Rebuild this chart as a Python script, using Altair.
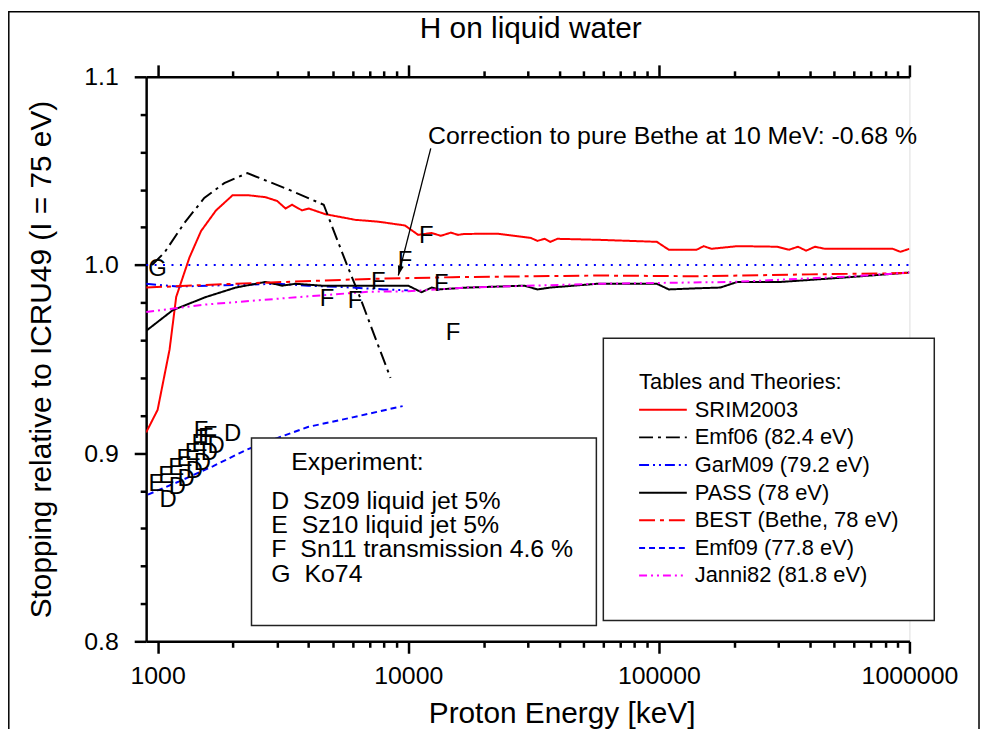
import altair as alt
import pandas as pd

FONT = "Liberation Sans"

# ---------------- ticks ----------------
X_TICKS = [1000, 2000, 3000, 4000, 5000, 6000, 7000, 8000, 9000,
           10000, 20000, 30000, 40000, 50000, 60000, 70000, 80000, 90000,
           100000, 200000, 300000, 400000, 500000, 600000, 700000, 800000, 900000,
           1000000]
X_MAJOR = [1000, 10000, 100000, 1000000]
Y_TICKS = [0.80, 0.82, 0.84, 0.86, 0.88, 0.90, 0.92, 0.94, 0.96, 0.98,
           1.00, 1.02, 1.04, 1.06, 1.08, 1.10]

# ---------------- theory curves ----------------
srim_E = [900, 1000, 1116, 1186, 1340, 1490, 1710, 1990, 2320, 2700,
          3000, 3240, 3440, 3770, 4010, 4670, 6140, 7600, 9700, 10960,
          12400, 13500, 14800, 15800, 16800, 22700, 30800, 32800, 35000, 36900,
          39400, 56700, 98200, 109600, 141500, 151000, 162000, 206000, 297000, 331000,
          359000, 387000, 420000, 460000, 857000, 921000, 1000000]
srim_v = [0.911, 0.923, 0.955, 0.983, 1.004, 1.018, 1.029, 1.037, 1.037, 1.036,
          1.034, 1.030, 1.032, 1.029, 1.030, 1.027, 1.024, 1.023, 1.021, 1.016,
          1.017, 1.0155, 1.0172, 1.016, 1.0165, 1.0166, 1.0144, 1.0128, 1.0139, 1.0123,
          1.0139, 1.0134, 1.0123, 1.0081, 1.0081, 1.010, 1.0086, 1.010, 1.0097, 1.0081,
          1.0097, 1.0076, 1.0097, 1.0086, 1.0086, 1.007, 1.0086]

emf06_E = [950, 1066, 1280, 1535, 1845, 2280, 3340, 4600, 4820, 5620, 6330, 7600, 8500]
emf06_v = [1.000, 1.0067, 1.0224, 1.0356, 1.0435, 1.0488, 1.040, 1.032, 1.025, 1.002, 0.985, 0.957, 0.940]

garm09_E = [900, 1200, 1600, 2200, 3000, 4000, 6000, 8000, 10000]
garm09_v = [0.990, 0.9885, 0.989, 0.9895, 0.990, 0.989, 0.988, 0.987, 0.9865]

pass_E = [900, 1150, 1560, 2050, 2700, 3140, 3550, 4530, 6140, 10000,
          11300, 12400, 13200, 17300, 29100, 32800, 36900, 56700, 98200, 109600,
          141500, 176000, 206000, 308000, 573000, 1000000]
pass_v = [0.965, 0.976, 0.983, 0.988, 0.991, 0.989, 0.990, 0.989, 0.989, 0.989,
          0.9855, 0.988, 0.987, 0.988, 0.989, 0.987, 0.988, 0.990, 0.990, 0.987,
          0.9876, 0.988, 0.991, 0.991, 0.9935, 0.996]

best_E = [900, 2000, 7000, 15000, 57000, 140000, 400000, 1000000]
best_v = [0.988, 0.990, 0.9926, 0.9935, 0.9944, 0.994, 0.995, 0.9957]

emf09_E = [915, 1220, 1660, 2280, 3000, 4000, 6000, 9500]
emf09_v = [0.878, 0.885, 0.893, 0.902, 0.908, 0.914, 0.919, 0.925]

janni_E = [900, 1560, 3700, 7000, 10000, 17000, 57000, 200000, 600000, 1000000]
janni_v = [0.975, 0.979, 0.983, 0.9858, 0.986, 0.988, 0.990, 0.991, 0.994, 0.996]

icru_E = [900, 1000000]
icru_v = [1.0, 1.0]

NAMES = ["SRIM2003", "Emf06 (82.4 eV)", "GarM09 (79.2 eV)", "PASS (78 eV)",
         "BEST (Bethe, 78 eV)", "Emf09 (77.8 eV)", "Janni82 (81.8 eV)"]
COLORS = ["#ff0000", "#000000", "#0000ff", "#000000", "#ff0000", "#0000ff", "#ff00ff"]
DASHES = [[1, 0], [14, 5, 3, 5], [10, 4, 2, 4, 2, 4], [1, 0], [16, 5, 4, 5], [6, 4], [8, 4, 2, 4, 2, 4]]
CURVES = [(srim_E, srim_v), (emf06_E, emf06_v), (garm09_E, garm09_v), (pass_E, pass_v),
          (best_E, best_v), (emf09_E, emf09_v), (janni_E, janni_v)]
THEORY_TITLE = "Tables and Theories:"

# ---------------- experiments ----------------
sz09_E = [1100, 1200, 1300, 1400, 1510, 1610, 1710, 1990]
sz09_v = [0.875, 0.882, 0.886, 0.8905, 0.895, 0.900, 0.9037, 0.910]
sz10_E = [990, 1083, 1186, 1280, 1380, 1470, 1560]
sz10_v = [0.8835, 0.888, 0.892, 0.8967, 0.9002, 0.9046, 0.9081]
sn11_E = [1490, 1620, 4740, 6140, 7600, 9700, 11800, 13550, 15100]
sn11_v = [0.912, 0.909, 0.982, 0.981, 0.991, 1.002, 1.0155, 0.990, 0.9636]
ko74_E = [1000]
ko74_v = [0.998]

EXP_LETTERS = ["D", "E", "F", "G"]
EXP_NAMES = ["Sz09 liquid jet 5%", "Sz10 liquid jet 5%", "Sn11 transmission 4.6 %", "Ko74"]
EXPS = [(sz09_E, sz09_v), (sz10_E, sz10_v), (sn11_E, sn11_v), (ko74_E, ko74_v)]
EXP_TITLE = "Experiment:"

TITLE = "H on liquid water"
X_TITLE = "Proton Energy [keV]"
Y_TITLE = "Stopping relative to ICRU49 (I = 75 eV)"

ANNOT_TEXT = ["Correction to pure Bethe at 10 MeV: -0.68 %"]
ANNOT_E = [12000]
ANNOT_V = [1.0683]
ARROW_FROM = (12300, 1.062)
ARROW_TO = (9130, 0.9944)

# ---------------- tables ----------------
rows = []
for name, (es, vs) in zip(NAMES, CURVES):
    for e, v in zip(es, vs):
        rows.append({"series": name, "E": e, "v": v})
df_lines = pd.DataFrame(rows)

df_icru = pd.DataFrame({"E": icru_E, "v": icru_v})

erows = []
for letter, (es, vs) in zip(EXP_LETTERS, EXPS):
    for e, v in zip(es, vs):
        erows.append({"letter": letter, "E": e, "v": v})
df_exp = pd.DataFrame(erows)

df_annot = pd.DataFrame({"E": ANNOT_E, "v": ANNOT_V, "t": ANNOT_TEXT})
df_arrow = pd.DataFrame({"x1": [ARROW_FROM[0]], "y1": [ARROW_FROM[1]],
                         "x2": [ARROW_TO[0]], "y2": [ARROW_TO[1]]})
df_one = pd.DataFrame({"k": [0]})

# ---------------- scales / axes ----------------
W, H = 768, 568
xscale = alt.Scale(type="log", domain=[900, 1000000], nice=False)
yscale = alt.Scale(domain=[0.8, 1.1], nice=False, zero=False)

x_major_test = "indexof([1000,10000,100000,1000000], datum.value) >= 0"
y_major_test = "abs(datum.value*10 - round(datum.value*10)) < 0.01"

x_axis_bottom = alt.Axis(
    values=X_TICKS,
    labelExpr=f"{x_major_test} ? format(datum.value, 'd') : ''",
    tickSize={"condition": {"test": x_major_test, "value": 12}, "value": 6},
    tickWidth=2.5, tickColor="black", domainWidth=2.5, domainColor="black",
    labelFont=FONT, labelFontSize=25, labelColor="black", labelPadding=10,
    labelOverlap=False, labelFlush=False, grid=False,
    title=X_TITLE, titleFont=FONT, titleFontSize=30,
    titleFontWeight="normal", titleColor="black", titlePadding=11, titleX=418,
)
x_axis_top = alt.Axis(
    orient="top", values=X_TICKS, labels=False,
    tickSize={"condition": {"test": x_major_test, "value": 12}, "value": 6},
    tickWidth=2.5, tickColor="black", domainWidth=2.5, domainColor="black",
    grid=False,
)
y_axis = alt.Axis(
    values=Y_TICKS,
    labelExpr=f"{y_major_test} ? format(datum.value, '.1f') : ''",
    tickSize={"condition": {"test": y_major_test, "value": 12}, "value": 6},
    tickWidth=2.5, tickColor="black", domainWidth=2.5, domainColor="black",
    labelFont=FONT, labelFontSize=25, labelColor="black", labelPadding=16,
    labelOverlap=False, grid=False,
    title=Y_TITLE, titleFont=FONT, titleFontSize=30,
    titleFontWeight="normal", titleColor="black", titlePadding=27,
)

# ---------------- data layers ----------------
lines = alt.Chart(df_lines).mark_line(strokeWidth=2, clip=True).encode(
    x=alt.X("E:Q", scale=xscale, axis=x_axis_bottom),
    y=alt.Y("v:Q", scale=yscale, axis=y_axis),
    color=alt.Color("series:N", scale=alt.Scale(domain=NAMES, range=COLORS), legend=None),
    strokeDash=alt.StrokeDash("series:N", scale=alt.Scale(domain=NAMES, range=DASHES), legend=None),
)

icru = alt.Chart(df_icru).mark_line(color="#0000ff", strokeWidth=2, strokeDash=[2, 6.5], clip=True).encode(
    x=alt.X("E:Q", scale=xscale, axis=x_axis_top, title=None),
    y=alt.Y("v:Q", scale=yscale, axis=y_axis),
)

markers = alt.Chart(df_exp).mark_text(font=FONT, fontSize=24, align="center", baseline="middle",
                                      color="black").encode(
    x=alt.X("E:Q", scale=xscale, axis=None),
    y=alt.Y("v:Q", scale=yscale, axis=y_axis),
    text="letter:N",
)

annot = alt.Chart(df_annot).mark_text(font=FONT, fontSize=25, align="left", baseline="middle",
                                      color="black").encode(
    x=alt.X("E:Q", scale=xscale, axis=None),
    y=alt.Y("v:Q", scale=yscale, axis=y_axis),
    text="t:N",
)

arrow = alt.Chart(df_arrow).mark_rule(color="black", strokeWidth=1.3).encode(
    x=alt.X("x1:Q", scale=xscale, axis=None), x2="x2:Q",
    y=alt.Y("y1:Q", scale=yscale, axis=y_axis), y2="y2:Q",
)

head = alt.Chart(df_arrow).mark_point(shape="M0,0 L-0.3,-1 L0.3,-1 Z", angle=14.5, size=400,
                                      filled=True, color="black", opacity=1).encode(
    x=alt.X("x2:Q", scale=xscale, axis=None),
    y=alt.Y("y2:Q", scale=yscale, axis=y_axis),
)

# ---------------- decorations: title, legend boxes, frame ----------------
deco = []
deco.append(alt.Chart(df_one).mark_text(text=TITLE, font=FONT, fontSize=30, align="center",
                                        baseline="middle", color="black").encode(
    x=alt.value(W / 2 + 3), y=alt.value(-48)))

# experiment box
deco.append(alt.Chart(df_one).mark_rect(fill="white", stroke="#222", strokeWidth=1.5).encode(
    x=alt.value(106), x2=alt.value(453), y=alt.value(363.5), y2=alt.value(552)))
deco.append(alt.Chart(df_one).mark_text(text=EXP_TITLE, font=FONT, fontSize=25, align="left",
                                        baseline="middle", color="black").encode(
    x=alt.value(146), y=alt.value(388)))
for i, (letter, nm) in enumerate(zip(EXP_LETTERS, EXP_NAMES)):
    deco.append(alt.Chart(df_one).mark_text(text=f"{letter}\u00a0\u00a0{nm}", font=FONT, fontSize=25,
                                            align="left", baseline="middle", color="black").encode(
        x=alt.value(126), y=alt.value(427 + 24.3 * i)))

# theories box
deco.append(alt.Chart(df_one).mark_rect(fill="white", stroke="#222", strokeWidth=1.5).encode(
    x=alt.value(460), x2=alt.value(793), y=alt.value(263), y2=alt.value(547)))
deco.append(alt.Chart(df_one).mark_text(text=THEORY_TITLE, font=FONT, fontSize=22, align="left",
                                        baseline="middle", color="black").encode(
    x=alt.value(496), y=alt.value(307)))
for i, (nm, col, dash) in enumerate(zip(NAMES, COLORS, DASHES)):
    yy = 335 + 27.8 * i
    deco.append(alt.Chart(df_one).mark_rule(color=col, strokeDash=dash, strokeWidth=2).encode(
        x=alt.value(496), x2=alt.value(544), y=alt.value(yy)))
    deco.append(alt.Chart(df_one).mark_text(text=nm, font=FONT, fontSize=22, align="left",
                                            baseline="middle", color="black").encode(
        x=alt.value(552), y=alt.value(yy)))

# outer frame
deco.append(alt.Chart(df_one).mark_rect(fill="white", fillOpacity=0, stroke="black", strokeWidth=1.5).encode(
    x=alt.value(-138.2), x2=alt.value(838), y=alt.value(-65.5), y2=alt.value(700)))

chart = alt.layer(lines, icru, markers, annot, arrow, head, *deco).resolve_axis(
    x="independent"
).properties(
    width=W, height=H,
    autosize=alt.AutoSizeParams(type="none"),
    padding={"left": 139, "top": 67, "right": 71, "bottom": 86},
).configure_view(stroke=None).configure(background="white")

chart.save("out.html", embed_options={"renderer": "svg", "actions": False})
